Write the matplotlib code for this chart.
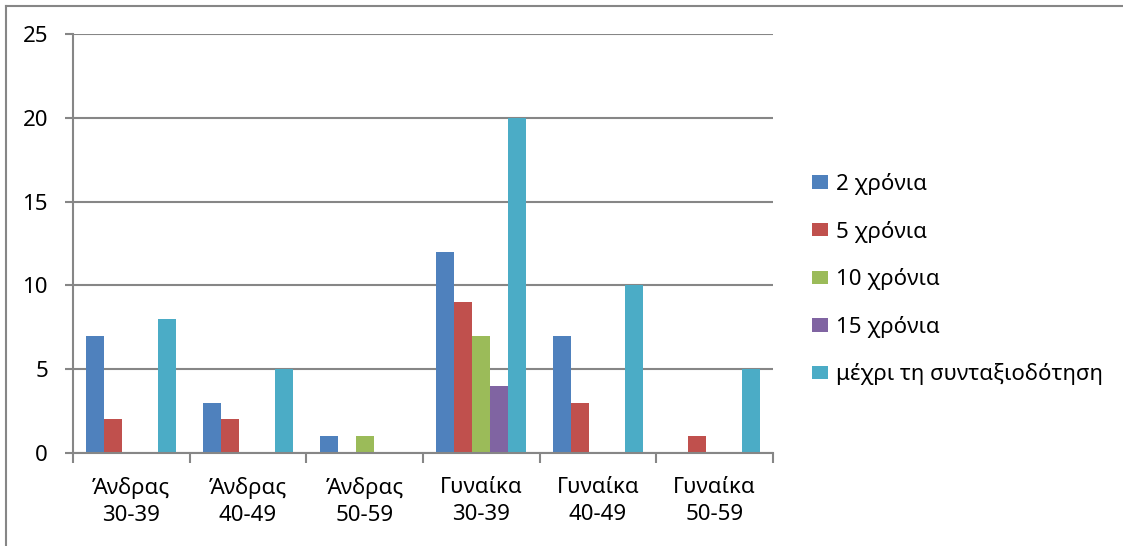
import matplotlib
matplotlib.use("Agg")
import matplotlib.pyplot as plt
from matplotlib.patches import Patch
from matplotlib.lines import Line2D
import numpy as np

plt.rcParams['font.family'] = ['Noto Sans', 'DejaVu Sans']

categories = ["Άνδρας\n30-39", "Άνδρας\n40-49", "Άνδρας\n50-59",
              "Γυναίκα\n30-39", "Γυναίκα\n40-49", "Γυναίκα\n50-59"]
series_names = ["2 χρόνια", "5 χρόνια", "10 χρόνια", "15 χρόνια",
                "μέχρι τη συνταξιοδότηση"]
two_years = [7, 3, 1, 12, 7, 0]
five_years = [2, 2, 0, 9, 3, 1]
ten_years = [0, 0, 1, 7, 0, 0]
fifteen_years = [0, 0, 0, 4, 0, 0]
until_retirement = [8, 5, 0, 20, 10, 5]
y_ticks = [0, 5, 10, 15, 20, 25]

series_values = [two_years, five_years, ten_years, fifteen_years, until_retirement]
colors = ["#4F81BD", "#C0504D", "#9BBB59", "#8064A2", "#4BACC6"]
grid_color = "#868686"
fs = 16

W, H = 1123, 546
fig = plt.figure(figsize=(W / 100, H / 100), dpi=100)
ax = fig.add_axes([73 / W, 1 - 453 / H, (773 - 73) / W, (453 - 34) / H])

x = np.arange(len(categories))
bw = 1 / 6.5
for i, (vals, col) in enumerate(zip(series_values, colors)):
    ax.bar(x + (i - 2) * bw, vals, width=bw, color=col, zorder=3,
           edgecolor='none')

ax.set_xlim(-0.5, len(categories) - 0.5)
ax.set_ylim(0, 25)
ax.set_yticks(y_ticks)
ax.set_yticklabels([str(t) for t in y_ticks], fontsize=fs)
ax.yaxis.grid(True, color=grid_color, linewidth=1.5, zorder=0)
ax.tick_params(axis='y', length=6, width=1.5, color=grid_color, pad=12)

ax.set_xticks(x)
ax.set_xticklabels(categories, fontsize=fs, linespacing=1.4)
ax.set_xticks(np.arange(len(categories) + 1) - 0.5, minor=True)
ax.tick_params(axis='x', which='major', length=0, pad=17)
ax.tick_params(axis='x', which='minor', length=7, width=1.5, color=grid_color)

for side in ['top', 'right']:
    ax.spines[side].set_visible(False)
for side in ['left', 'bottom']:
    ax.spines[side].set_color(grid_color)
    ax.spines[side].set_linewidth(1.5)
    ax.spines[side].set_zorder(4)

handles = [Patch(facecolor=c, edgecolor='none') for c in colors]
fig.legend(handles, series_names, loc='upper left',
           bbox_to_anchor=(812 / W, 1 - 173 / H), frameon=False,
           fontsize=fs, handlelength=0.7, handleheight=0.55,
           handletextpad=0.4, labelspacing=1.15, borderaxespad=0,
           borderpad=0)

# outer chart frame
fig.add_artist(Line2D([6 / W, 6 / W], [0, 1 - 6 / H], transform=fig.transFigure,
                      color=grid_color, linewidth=1.5))
fig.add_artist(Line2D([6 / W, 1], [1 - 6 / H, 1 - 6 / H], transform=fig.transFigure,
                      color=grid_color, linewidth=1.5))

fig.savefig("out.png", dpi=100, facecolor='white')
